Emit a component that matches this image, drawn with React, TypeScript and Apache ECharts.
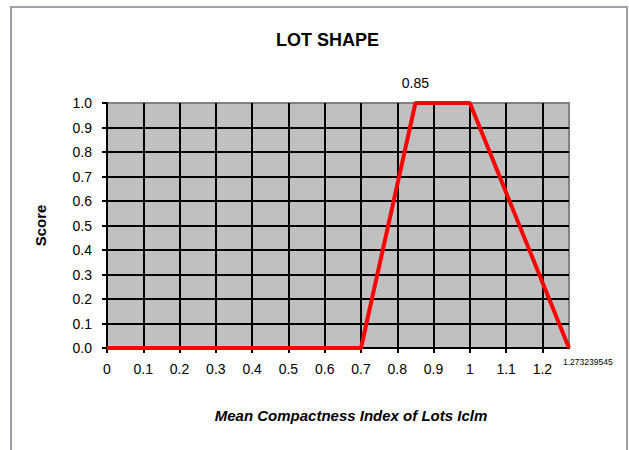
import React, { useEffect, useRef } from "react";
import * as echarts from "echarts";

const xValues = [0, 0.7, 0.85, 1, 1.273239545];
const scores = [0, 0, 1, 1, 0];
const labelledX = [0.85, 1.273239545];
const xMax = 1.273239545;
const titleText = "LOT SHAPE";
const xName = "Mean Compactness Index of Lots Iclm";
const yName = "Score";

export default function App() {
  const ref = useRef<HTMLDivElement>(null);
  useEffect(() => {
    document.body.style.margin = "0";
    const chart = echarts.init(ref.current!, null, { renderer: "svg" });
    const font = "Liberation Sans, Arial, sans-serif";
    const data = xValues.map((x, i) => {
      const item: any = { value: [x, scores[i]] };
      if (x === labelledX[0]) {
        item.label = {
          show: true,
          position: "top",
          distance: 13,
          fontSize: 14,
          color: "#000",
          fontFamily: font,
          formatter: String(x),
        };
      } else if (x === labelledX[1]) {
        item.label = {
          show: true,
          position: "bottom",
          distance: 9,
          align: "left",
          offset: [-6, 0],
          fontSize: 8.5,
          color: "#000",
          fontFamily: font,
          formatter: String(x),
        };
      }
      return item;
    });
    chart.setOption({
      animation: false,
      backgroundColor: "#fff",
      title: {
        text: titleText,
        left: 276,
        top: 31,
        padding: 0,
        textStyle: { fontSize: 18, fontWeight: "bold", color: "#000", fontFamily: font },
      },
      graphic: [
        {
          type: "rect",
          shape: { x: 11, y: 7, width: 616, height: 460 },
          style: { fill: "none", stroke: "#a0a0a8", lineWidth: 2 },
          silent: true,
        },
      ],
      grid: { left: 107, top: 103, right: 60, bottom: 102, show: true, backgroundColor: "#c0c0c0", borderColor: "#808080", borderWidth: 2 },
      xAxis: {
        type: "value",
        min: 0,
        max: xMax,
        interval: 0.1,
        name: xName,
        nameLocation: "middle",
        nameGap: 60,
        nameTextStyle: { fontSize: 15, fontWeight: "bold", fontStyle: "italic", color: "#000", fontFamily: font, padding: [0, 0, 0, 26] },
        axisLine: { show: true, lineStyle: { color: "#000", width: 2 } },
        axisTick: { show: true, length: 5, lineStyle: { color: "#000", width: 2 } },
        axisLabel: {
          margin: 14,
          fontSize: 14,
          color: "#000",
          fontFamily: font,
          showMaxLabel: false,
          formatter: (v: number) => (Math.abs(v - xMax) < 1e-9 ? "" : String(Math.round(v * 10) / 10)),
        },
        splitLine: { show: true, showMinLine: false, showMaxLine: false, lineStyle: { color: "#000", width: 2 } },
      },
      yAxis: {
        type: "value",
        min: 0,
        max: 1,
        interval: 0.1,
        name: yName,
        nameLocation: "middle",
        nameGap: 59,
        nameTextStyle: { fontSize: 15, fontWeight: "bold", color: "#000", fontFamily: font },
        axisLine: { show: true, lineStyle: { color: "#000", width: 2 } },
        axisTick: { show: true, length: 5, lineStyle: { color: "#000", width: 2 } },
        axisLabel: {
          margin: 15,
          fontSize: 14,
          color: "#000",
          fontFamily: font,
          formatter: (v: number) => v.toFixed(1),
        },
        splitLine: { show: true, showMinLine: false, showMaxLine: false, lineStyle: { color: "#000", width: 2 } },
      },
      series: [
        {
          type: "line",
          data,
          clip: false,
          showSymbol: true,
          symbol: "circle",
          symbolSize: 0,
          lineStyle: { color: "#ff0000", width: 4 },
          itemStyle: { color: "#ff0000" },
          z: 5,
        },
      ],
    });
    return () => chart.dispose();
  }, []);
  return <div ref={ref} style={{ width: 629, height: 450 }} />;
}
